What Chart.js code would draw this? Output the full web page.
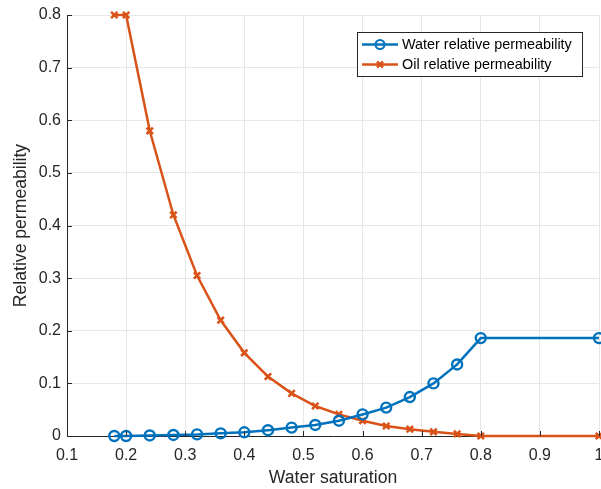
<!DOCTYPE html>
<html>
<head>
<meta charset="utf-8">
<script src="https://cdn.jsdelivr.net/npm/chart.js@4/dist/chart.umd.min.js"></script>
<style>
html,body{margin:0;padding:0;background:#fff;}
#wrap{width:601px;height:489px;position:relative;}
</style>
</head>
<body>
<div id="wrap"><canvas id="c" width="601" height="489"></canvas></div>
<script>
const saturation = [0.18, 0.20, 0.24, 0.28, 0.32, 0.36, 0.40, 0.44, 0.48, 0.52, 0.56, 0.60, 0.64, 0.68, 0.72, 0.76, 0.80, 1.00];
const waterKr   = [0.000, 0.000, 0.001, 0.002, 0.003, 0.005, 0.007, 0.011, 0.016, 0.021, 0.029, 0.041, 0.054, 0.074, 0.100, 0.136, 0.186, 0.186];
const oilKr     = [0.800, 0.800, 0.580, 0.420, 0.305, 0.220, 0.158, 0.113, 0.081, 0.057, 0.041, 0.029, 0.019, 0.013, 0.008, 0.004, 0.000, 0.000];
const xTicks = [0.1, 0.2, 0.3, 0.4, 0.5, 0.6, 0.7, 0.8, 0.9, 1.0];
const yTicks = [0, 0.1, 0.2, 0.3, 0.4, 0.5, 0.6, 0.7, 0.8];
const seriesNames = ['Water relative permeability', 'Oil relative permeability'];

const BLUE = '#0072BD', ORANGE = '#D95319', TXT = '#262626';
const FONT = '"Liberation Sans", Arial, Helvetica, sans-serif';

function pts(xs, ys){ return xs.map((x,i)=>({x:x, y:ys[i]})); }
function fmt(v){ return String(Number(v.toFixed(2))); }
const zeroPad = () => ({left:0, top:0, right:0, bottom:0});

const inwardTicks = {
  id:'inwardTicks',
  afterDatasetsDraw(chart){
    const ctx = chart.ctx, ca = chart.chartArea;
    const xs = chart.scales.x, ys = chart.scales.y;
    ctx.save();
    ctx.strokeStyle = TXT; ctx.lineWidth = 1;
    ctx.beginPath();
    xTicks.forEach(v=>{ const p = Math.round(xs.getPixelForValue(v))+0.5; ctx.moveTo(p, ca.bottom); ctx.lineTo(p, ca.bottom-5); });
    yTicks.forEach(v=>{ const p = Math.round(ys.getPixelForValue(v))+0.5; ctx.moveTo(ca.left, p); ctx.lineTo(ca.left+5, p); });
    ctx.stroke();
    ctx.restore();
  }
};

const boxLegend = {
  id:'boxLegend',
  afterDraw(chart){
    const ctx = chart.ctx, ca = chart.chartArea;
    const bx = ca.right - 242, by = ca.top + 17, bw = 225, bh = 44;
    ctx.save();
    ctx.fillStyle = '#fff';
    ctx.fillRect(bx, by, bw, bh);
    ctx.strokeStyle = TXT; ctx.lineWidth = 1;
    ctx.strokeRect(bx+0.5, by+0.5, bw, bh);
    chart.data.datasets.forEach((ds,i)=>{
      const cy = by + 12.5 + i*20;
      ctx.strokeStyle = ds.borderColor; ctx.lineWidth = 2.5;
      ctx.beginPath(); ctx.moveTo(bx+5, cy); ctx.lineTo(bx+41, cy); ctx.stroke();
      const mx = bx+23;
      ctx.lineWidth = 2;
      if (i===0){
        ctx.beginPath(); ctx.arc(mx, cy, 4.5, 0, Math.PI*2); ctx.stroke();
      } else {
        ctx.lineWidth = 2.5;
        ctx.beginPath();
        ctx.moveTo(mx-3, cy-3); ctx.lineTo(mx+3, cy+3);
        ctx.moveTo(mx-3, cy+3); ctx.lineTo(mx+3, cy-3);
        ctx.stroke();
      }
      ctx.fillStyle = '#000';
      ctx.font = '14.4px ' + FONT;
      ctx.textBaseline = 'middle';
      ctx.fillText(ds.label, bx+45, cy+0.5);
    });
    ctx.restore();
  }
};

new Chart(document.getElementById('c'), {
  type:'line',
  data:{
    datasets:[
      {label:seriesNames[0], data:pts(saturation, waterKr), borderColor:BLUE, backgroundColor:'transparent',
       borderWidth:2.5, pointStyle:'circle', pointRadius:5, pointBorderWidth:2.4, pointBorderColor:BLUE,
       pointBackgroundColor:'rgba(255,255,255,0)', tension:0, clip:false},
      {label:seriesNames[1], data:pts(saturation, oilKr), borderColor:ORANGE, backgroundColor:'transparent',
       borderWidth:2.5, pointStyle:'crossRot', pointRadius:4.5, pointBorderWidth:2.6, pointBorderColor:ORANGE,
       tension:0, clip:false}
    ]
  },
  options:{
    responsive:false, animation:false,
    layout:{autoPadding:false, padding:{top:15, right:2, left:0, bottom:0}},
    plugins:{legend:{display:false}, tooltip:{enabled:false}},
    scales:{
      x:{type:'linear', min:0.1, max:1,
         afterBuildTicks(s){ s.ticks = xTicks.map(v=>({value:v})); },
         afterFit(s){ s.height = 53; s.paddingLeft = 0; s.paddingRight = 0; s.getPadding = zeroPad; },
         ticks:{callback:v=>fmt(v), color:TXT, font:{family:FONT, size:16}, padding:10, maxRotation:0},
         grid:{color:'#e6e6e6', lineWidth:1, drawTicks:false},
         border:{display:true, color:TXT, width:1},
         title:{display:true, text:'Water saturation', color:TXT, font:{family:FONT, size:17.6}, padding:{top:2, bottom:0}}
      },
      y:{type:'linear', min:0, max:0.8,
         afterBuildTicks(s){ s.ticks = yTicks.map(v=>({value:v})); },
         afterFit(s){ s.width = 67; s.paddingTop = 0; s.paddingBottom = 0; s.getPadding = zeroPad; },
         ticks:{callback:v=>fmt(v), color:TXT, font:{family:FONT, size:16}, padding:6},
         grid:{color:'#e6e6e6', lineWidth:1, drawTicks:false},
         border:{display:true, color:TXT, width:1},
         title:{display:true, text:'Relative permeability', color:TXT, font:{family:FONT, size:17.6}, padding:{top:11, bottom:4}}
      }
    }
  },
  plugins:[inwardTicks, boxLegend]
});
</script>
</body>
</html>
